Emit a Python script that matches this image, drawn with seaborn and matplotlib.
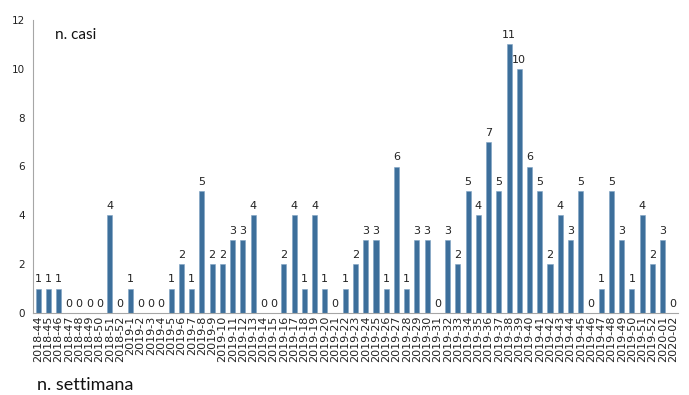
import numpy as np
import pandas as pd
import seaborn as sns
import matplotlib.pyplot as plt

# settimane (anno-settimana)
weeks_2018 = ["2018-44", "2018-45", "2018-46", "2018-47", "2018-48",
              "2018-49", "2018-50", "2018-51", "2018-52"]
weeks_2019 = ["2019-%d" % w for w in range(1, 53)]
weeks_2020 = ["2020-01", "2020-02"]
weeks = weeks_2018 + weeks_2019 + weeks_2020

# numero di casi per settimana
cases_2018 = [1, 1, 1, 0, 0, 0, 0, 4, 0]
cases_2019 = [1, 0, 0, 0, 1, 2, 1, 5, 2, 2,
              3, 3, 4, 0, 0, 2, 4, 1, 4, 1,
              0, 1, 2, 3, 3, 1, 6, 1, 3, 3,
              0, 3, 2, 5, 4, 7, 5, 11, 10, 6,
              5, 2, 4, 3, 5, 0, 1, 5, 3, 1,
              4, 2]
cases_2020 = [3, 0]
cases = cases_2018 + cases_2019 + cases_2020

df = pd.DataFrame({"settimana": weeks, "casi": cases})

sns.set_style("white")
plt.rcParams["font.family"] = ["DejaVu Sans"]

fig = plt.figure(figsize=(6.89, 3.95), dpi=100)
ax = fig.add_axes([33 / 689, 1 - 313 / 395, (678 - 33) / 689, (313 - 20) / 395])

sns.barplot(data=df, x="settimana", y="casi", color="#3D6F9B",
            width=0.5, saturation=1, ax=ax, edgecolor="#7FA3C4", linewidth=0.4)

# etichette sopra le barre
ax.bar_label(ax.containers[0], labels=[str(v) for v in cases],
             fontsize=8, color="#222222", padding=3)

ax.set_ylim(0, 12)
ax.set_yticks(range(0, 13, 2))
ax.set_xlim(-0.5, len(weeks) - 0.5)
ax.set_xlabel("")
ax.set_ylabel("")

ax.tick_params(axis="x", which="major", length=0, labelsize=8,
               labelrotation=90, pad=2, labelcolor="#222222")
ax.set_xticks(np.arange(-0.5, len(weeks), 1), minor=True)
ax.tick_params(axis="x", which="minor", length=4, color="#A6A6A6", width=0.8)
ax.tick_params(axis="y", length=3, color="#A6A6A6", width=0.8,
               labelsize=7.5, labelcolor="#222222", pad=3)

sns.despine(ax=ax)
for side in ["left", "bottom"]:
    ax.spines[side].set_color("#A6A6A6")
    ax.spines[side].set_linewidth(0.8)

fig.text(55 / 689, 1 - 35 / 395, "n. casi", fontsize=11,
         family=["Lato", "DejaVu Sans"], va="center", ha="left", color="#111111")
fig.text(37 / 689, 1 - 385 / 395, "n. settimana", fontsize=13,
         family=["Lato", "DejaVu Sans"], va="center", ha="left", color="#111111")

fig.savefig("out.png", dpi=100)
